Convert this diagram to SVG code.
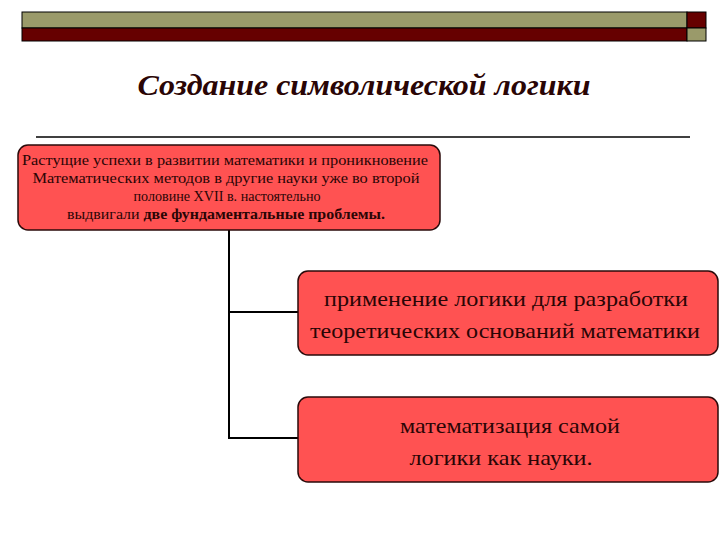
<svg xmlns="http://www.w3.org/2000/svg" width="720" height="540" viewBox="0 0 720 540">
<style>
.box{fill:#ff5252;stroke:#2a0a0a;stroke-width:1.5}
.t{font-family:"Liberation Serif","Times New Roman",serif;fill:#2a0505;text-anchor:middle}
.s{font-size:14px}
.b{font-size:22px}
.con{stroke:#000;stroke-width:2;fill:none}
</style>
<rect width="720" height="540" fill="#fff"/>
<g id="header">
<rect x="22" y="12" width="665" height="16" fill="#9a9a6a" stroke="#000" stroke-width="1"/>
<rect x="22" y="28" width="665" height="13" fill="#660000" stroke="#000" stroke-width="1"/>
<rect x="687" y="12" width="19" height="16" fill="#660000" stroke="#000" stroke-width="1"/>
<rect x="687" y="28" width="19" height="13" fill="#9a9a6a" stroke="#000" stroke-width="1"/>
</g>
<g id="title">
<text x="364" y="95" class="t" style="font-size:30px;font-weight:bold;font-style:italic" textLength="453" lengthAdjust="spacingAndGlyphs">Создание символической логики</text>
<line x1="36" y1="137" x2="690" y2="137" stroke="#000" stroke-width="1.5"/>
</g>
<g id="connectors">
<path class="con" d="M229 230 V438 H300 M229 312 H300"/>
</g>
<g id="n1">
<rect class="box" x="18" y="145" width="422" height="85" rx="10"/>
<text class="t s" x="225" y="165" textLength="406" lengthAdjust="spacingAndGlyphs">Растущие успехи в развитии математики и проникновение</text>
<text class="t s" x="226" y="183" textLength="387" lengthAdjust="spacingAndGlyphs">Математических  методов в другие науки уже во второй</text>
<text class="t s" x="227" y="201" textLength="187" lengthAdjust="spacingAndGlyphs">половине XVII в. настоятельно</text>
<text class="t s" x="226" y="219" textLength="318" lengthAdjust="spacingAndGlyphs">выдвигали <tspan font-weight="bold">две фундаментальные проблемы.</tspan></text>
</g>
<g id="n2">
<rect class="box" x="298" y="271" width="420" height="84" rx="10"/>
<text class="t b" x="506" y="306" textLength="364" lengthAdjust="spacingAndGlyphs">применение логики для разработки</text>
<text class="t b" x="505" y="338" textLength="390" lengthAdjust="spacingAndGlyphs">теоретических оснований математики</text>
</g>
<g id="n3">
<rect class="box" x="298" y="397" width="420" height="85" rx="10"/>
<text class="t b" x="510" y="433" textLength="220" lengthAdjust="spacingAndGlyphs">математизация самой</text>
<text class="t b" x="501" y="465" textLength="183" lengthAdjust="spacingAndGlyphs">логики как науки.</text>
</g>
</svg>
